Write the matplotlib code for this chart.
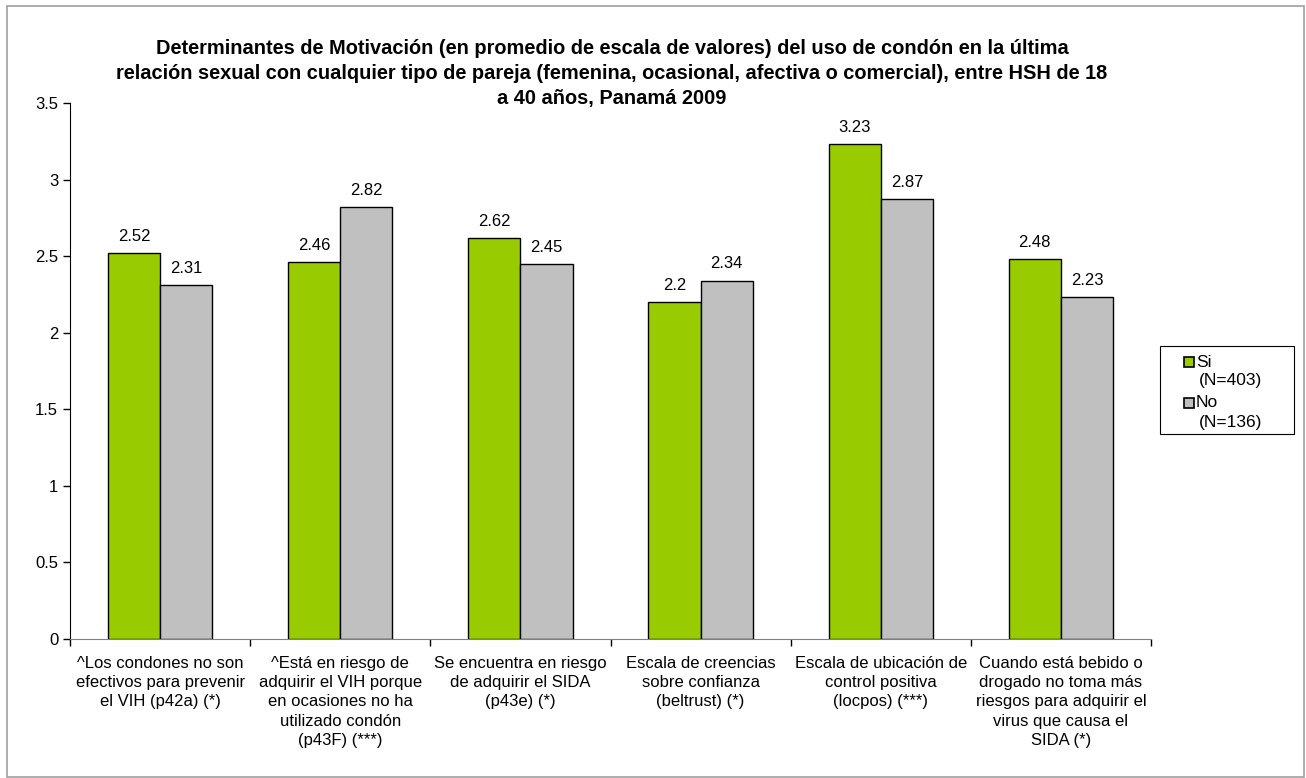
import matplotlib.pyplot as plt
from matplotlib.patches import Rectangle
import numpy as np

plt.rcParams['font.family'] = ['Liberation Sans', 'DejaVu Sans']

# Data
categories = [
    "^Los condones no son\nefectivos para prevenir\nel VIH (p42a) (*)",
    "^Está en riesgo de\nadquirir el VIH porque\nen ocasiones no ha\nutilizado condón\n(p43F) (***)",
    "Se encuentra en riesgo\nde adquirir el SIDA\n(p43e) (*)",
    "Escala de creencias\nsobre confianza\n(beltrust) (*)",
    "Escala de ubicación de\ncontrol positiva\n(locpos) (***)",
    "Cuando está bebido o\ndrogado no toma más\nriesgos para adquirir el\nvirus que causa el\nSIDA (*)",
]
si_values = [2.52, 2.46, 2.62, 2.2, 3.23, 2.48]
no_values = [2.31, 2.82, 2.45, 2.34, 2.87, 2.23]
series_names = ["Si", "No"]
series_n = ["(N=403)", "(N=136)"]
colors = ['#99CC00', '#C0C0C0']
yticks = [0, 0.5, 1, 1.5, 2, 2.5, 3, 3.5]

W, H = 1306, 778
fig = plt.figure(figsize=(W / 100, H / 100), dpi=100)

# outer frame
fig.patches.append(Rectangle((7 / W, 1 / H), 1297 / W, (H - 7) / H,
                             transform=fig.transFigure, fill=False,
                             edgecolor='#a0a0a0', linewidth=1.2))

ax = fig.add_axes([70 / W, 1 - 639 / H, (1151 - 70) / W, (639 - 103) / H])

x = np.arange(len(categories))
bw = 0.29
b1 = ax.bar(x - bw / 2, si_values, bw, color=colors[0], edgecolor='black',
            linewidth=1)
b2 = ax.bar(x + bw / 2, no_values, bw, color=colors[1], edgecolor='black',
            linewidth=1)

for bars, vals in ((b1, si_values), (b2, no_values)):
    for b, v in zip(bars, vals):
        ax.text(b.get_x() + b.get_width() / 2, v + 0.06, f"{v:g}",
                ha='center', va='bottom', fontsize=12)

ax.set_xlim(-0.5, len(categories) - 0.5)
ax.set_ylim(0, 3.5)
ax.set_yticks(yticks)
ax.set_yticklabels([f"{t:g}" for t in yticks], fontsize=12)
ax.set_xticks(np.arange(len(categories) + 1) - 0.5)
ax.set_xticklabels([])
ax.tick_params(axis='both', direction='out', length=5, width=1)

for i, lab in enumerate(categories):
    ax.text(i, -0.11, lab, ha='center', va='top', fontsize=12,
            linespacing=1.36)

ax.spines['top'].set_visible(False)
ax.spines['right'].set_visible(False)
ax.spines['left'].set_color('black')
ax.spines['bottom'].set_color('#808080')

fig.text(612 / W, 1 - 39 / H,
         "Determinantes de Motivación (en promedio de escala de valores) del uso de condón en la última\n"
         "relación sexual con cualquier tipo de pareja (femenina, ocasional, afectiva o comercial), entre HSH de 18\n"
         "a 40 años, Panamá 2009",
         ha='center', va='top', fontsize=14.4, fontweight='bold',
         linespacing=1.4)

# legend box drawn by hand: marker sits by the first line of each entry
fig.patches.append(Rectangle((1160 / W, 1 - 434 / H), 134 / W, 88 / H,
                             transform=fig.transFigure, fill=False,
                             edgecolor='black', linewidth=0.8))
for k, (name, n, c) in enumerate(zip(series_names, series_n, colors)):
    y0 = 362 + k * 41
    fig.patches.append(Rectangle((1183.5 / W, 1 - (y0 + 5) / H), 10 / W, 10 / H,
                                 transform=fig.transFigure, facecolor=c,
                                 edgecolor='black', linewidth=1.2))
    fig.text(1196 / W, 1 - y0 / H, name, ha='left', va='center', fontsize=12.5)
    fig.text(1199 / W, 1 - (y0 + 19) / H, n, ha='left', va='center',
             fontsize=12.5)

fig.savefig('out.png', dpi=100)
